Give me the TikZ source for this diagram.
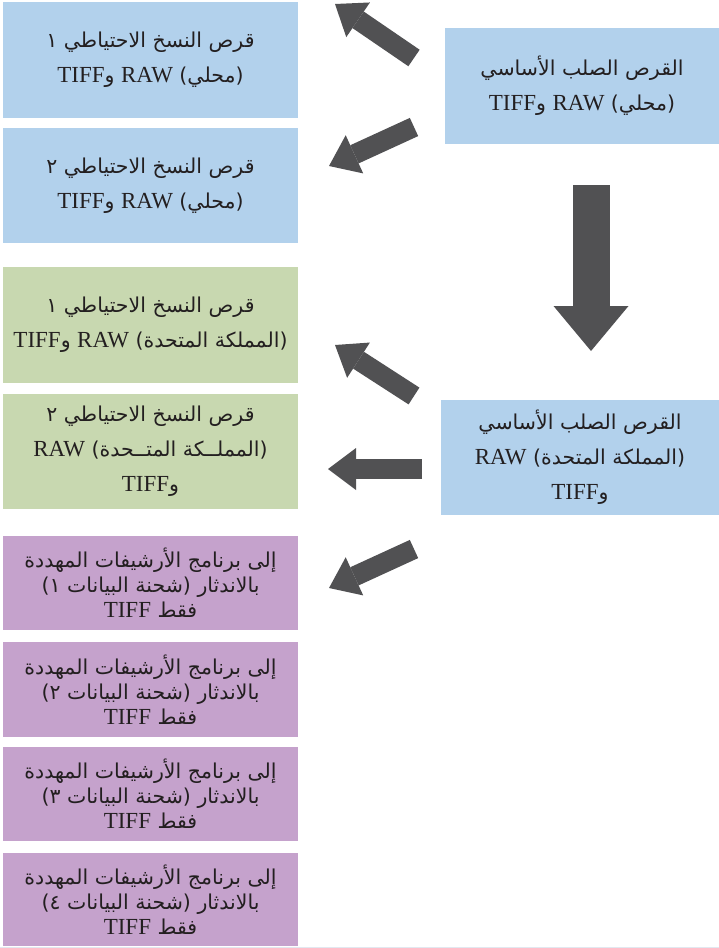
\documentclass[tikz,border=0pt]{standalone}
\usepackage{fontspec}
\setmainfont{Liberation Serif}
\newfontfamily\arabicfont[Script=Arabic]{DejaVu Sans}
\newfontfamily\latinfont{Liberation Serif}
\TeXXeTstate=1
\usetikzlibrary{arrows.meta}
\definecolor{diskblue}{HTML}{B2D1EC}
\definecolor{ukgreen}{HTML}{C8D8B0}
\definecolor{arcpurple}{HTML}{C5A2CC}
\definecolor{arrowgray}{HTML}{515153}
\definecolor{inkblack}{HTML}{231F20}
\definecolor{rulegray}{HTML}{E2E8F0}
\newcommand{\artext}[1]{{\arabicfont\beginR #1\endR}}
\newcommand{\latword}[1]{\beginL{\latinfont\fontsize{23}{25}\selectfont #1}\endL{}}

\begin{document}
\begin{tikzpicture}[x=1pt,y=-1pt,
    box/.style={rectangle,inner sep=0pt,text=inkblack,align=center,
      font=\fontsize{20.5}{35}\selectfont},
    disk/.style={box,fill=diskblue,minimum width=295pt,minimum height=116pt},
    ukdisk/.style={box,fill=ukgreen,minimum width=295pt,minimum height=116pt},
    arcdisk/.style={box,fill=arcpurple,minimum width=295pt,minimum height=94pt,
      font=\fontsize{20.5}{25}\selectfont},
    fatarrow/.style={color=arrowgray,line width=20pt,
      -{Triangle[width=42pt,length=28pt,line width=0pt]}},
    downarrow/.style={color=arrowgray,line width=37pt,
      -{Triangle[width=75pt,length=45pt,line width=0pt]}}]
  \useasboundingbox (0,0) rectangle (719,948);
  % local disks
  \node[disk] (bak1) at (150.5,60)
    {\artext{قرص النسخ الاحتياطي ١}\\\artext{(محلي) \latword{RAW} و\latword{TIFF}}};
  \node[disk,minimum height=115pt] (bak2) at (150.5,185.5)
    {\artext{قرص النسخ الاحتياطي ٢}\\\artext{(محلي) \latword{RAW} و\latword{TIFF}}};
  \node[disk,minimum width=274pt] (mainl) at (582,86)
    {\artext{القرص الصلب الأساسي}\\\artext{(محلي) \latword{RAW} و\latword{TIFF}}};
  % UK disks
  \node[ukdisk] (uk1) at (150.5,325)
    {\artext{قرص النسخ الاحتياطي ١}\\\artext{(المملكة المتحدة) \latword{RAW} و\latword{TIFF}}};
  \node[ukdisk,minimum height=115pt] (uk2) at (150.5,451.5)
    {\artext{قرص النسخ الاحتياطي ٢}\\\artext{(المملــكة المتــحدة) \latword{RAW}}\\\artext{و\latword{TIFF}}};
  \node[disk,minimum width=278pt,minimum height=115pt] (mainu) at (580,457.5)
    {\artext{القرص الصلب الأساسي}\\\artext{(المملكة المتحدة) \latword{RAW}}\\\artext{و\latword{TIFF}}};
  % archive
  \node[arcdisk] (arc1) at (150.5,583)
    {\artext{إلى برنامج الأرشيفات المهددة}\\\artext{بالاندثار (شحنة البيانات ١)}\\\artext{فقط \latword{TIFF}}};
  \node[arcdisk,minimum height=95pt] (arc2) at (150.5,689.5)
    {\artext{إلى برنامج الأرشيفات المهددة}\\\artext{بالاندثار (شحنة البيانات ٢)}\\\artext{فقط \latword{TIFF}}};
  \node[arcdisk] (arc3) at (150.5,794)
    {\artext{إلى برنامج الأرشيفات المهددة}\\\artext{بالاندثار (شحنة البيانات ٣)}\\\artext{فقط \latword{TIFF}}};
  \node[arcdisk,minimum height=93pt] (arc4) at (150.5,899.5)
    {\artext{إلى برنامج الأرشيفات المهددة}\\\artext{بالاندثار (شحنة البيانات ٤)}\\\artext{فقط \latword{TIFF}}};
  % arrow ends
  \coordinate (l1s) at (414,58);  \coordinate (l1e) at (335,4);
  \coordinate (l2s) at (414,127); \coordinate (l2e) at (329,166);
  \coordinate (ds)  at (591,185); \coordinate (de)  at (591,351);
  \coordinate (u1s) at (414,396); \coordinate (u1e) at (335,345);
  \coordinate (u2s) at (422,469); \coordinate (u2e) at (328,469);
  \coordinate (a1s) at (414,549); \coordinate (a1e) at (329,588);
  \path (l1s) edge[fatarrow] (l1e);
  \path (l2s) edge[fatarrow] (l2e);
  \path (ds) edge[downarrow] (de);
  \path (u1s) edge[fatarrow] (u1e);
  \path (u2s) edge[fatarrow] (u2e);
  \path (a1s) edge[fatarrow] (a1e);
  \draw[rulegray,line width=1pt] (0,947.5) -- (719,947.5);
\end{tikzpicture}
\end{document}
